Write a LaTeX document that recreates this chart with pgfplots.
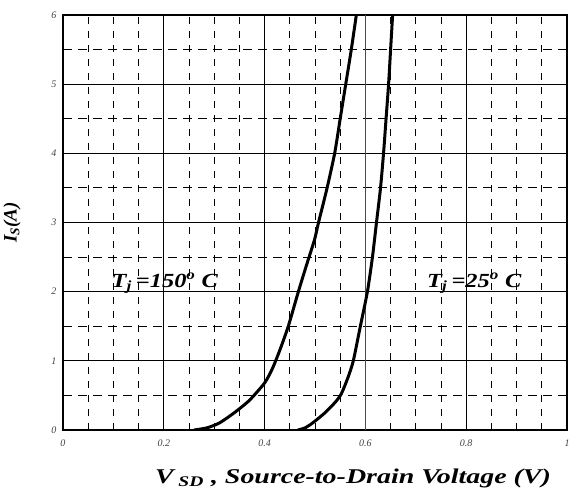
\documentclass[border=0pt]{standalone}
\usepackage{fontspec}
\setmainfont{Liberation Serif}
\usepackage{pgfplots}
\pgfplotsset{compat=1.18}
\begin{document}
\begin{tikzpicture}
\begin{axis}[
  at={(0,0)}, anchor=south west,
  scale only axis, width=504pt, height=415pt,
  xmin=0, xmax=1, ymin=0, ymax=6,
  xtick={0,0.2,0.4,0.8,1},
  xticklabels={0,0.2,0.4,0.8,1},
  extra x ticks={0.6},
  extra x tick labels={0.6},
  extra x tick style={major grid style={black!70, line width=0.7pt}},
  minor xtick={0.05,0.1,0.15,0.25,0.3,0.35,0.45,0.5,0.55,0.65,0.7,0.75,0.85,0.9,0.95},
  ytick={0,1,2,3,4,5,6},
  minor ytick={0.5,1.5,2.5,3.5,4.5,5.5},
  major tick length=0pt, minor tick length=0pt,
  grid=both,
  major grid style={black, line width=1.1pt},
  major y grid style={black, line width=0.8pt},
  minor x grid style={black, line width=0.9pt, dash pattern=on 7pt off 7pt},
  minor y grid style={black, line width=0.9pt, dash pattern=on 9pt off 6pt},
  axis line style={line width=2.6pt},
  /pgf/number format/assume math mode=true,
  tick label style={font=\fontsize{10}{10}\selectfont\itshape, text=black!75},
  xticklabel style={yshift=-6pt},
  yticklabel style={xshift=-3pt},
  xlabel={\scalebox{1.33}[1]{\textbf{\textit{V\,\textsubscript{SD} , Source-to-Drain Voltage (V)}}}},
  ylabel={\textbf{\textit{I\textsubscript{S}(A)}}},
  label style={font=\fontsize{21}{21}\selectfont},
  xlabel style={at={(axis description cs:0.5,0)}, anchor=center, xshift=38pt, yshift=-48pt},
  ylabel style={font=\fontsize{19}{19}\selectfont, at={(axis description cs:0,0.5)}, anchor=center, yshift=51pt},
]
\addplot[black, line width=3pt, smooth, tension=0.4] coordinates {
(0.260,0.00) (0.285,0.03) (0.310,0.10) (0.340,0.25) (0.370,0.43) (0.400,0.68)
(0.415,0.88) (0.430,1.15) (0.447,1.50) (0.467,2.00) (0.483,2.38) (0.499,2.75)
(0.507,3.00) (0.524,3.50) (0.539,4.00) (0.550,4.50) (0.561,5.00) (0.572,5.50) (0.582,6.00)
};
\addplot[black, line width=3pt, smooth, tension=0.4] coordinates {
(0.466,0.00) (0.480,0.03) (0.495,0.10) (0.520,0.25) (0.540,0.40) (0.552,0.52)
(0.565,0.75) (0.576,1.00) (0.590,1.50) (0.604,2.00) (0.614,2.50) (0.622,3.00)
(0.630,3.50) (0.636,4.00) (0.641,4.50) (0.646,5.00) (0.650,5.50) (0.654,6.00)
};
\node[font=\fontsize{20}{20}\selectfont\bfseries\itshape] at (axis cs:0.202,2.12) {\scalebox{1.22}[1]{T\textsubscript{j}\,=150\textsuperscript{o} C}};
\node[font=\fontsize{20}{20}\selectfont\bfseries\itshape] at (axis cs:0.816,2.12) {\scalebox{1.22}[1]{T\textsubscript{j}\,=25\textsuperscript{o} C}};
\end{axis}
\pgfresetboundingbox
\path (-63pt,-59pt) rectangle (508pt,430pt);
\end{tikzpicture}
\end{document}
